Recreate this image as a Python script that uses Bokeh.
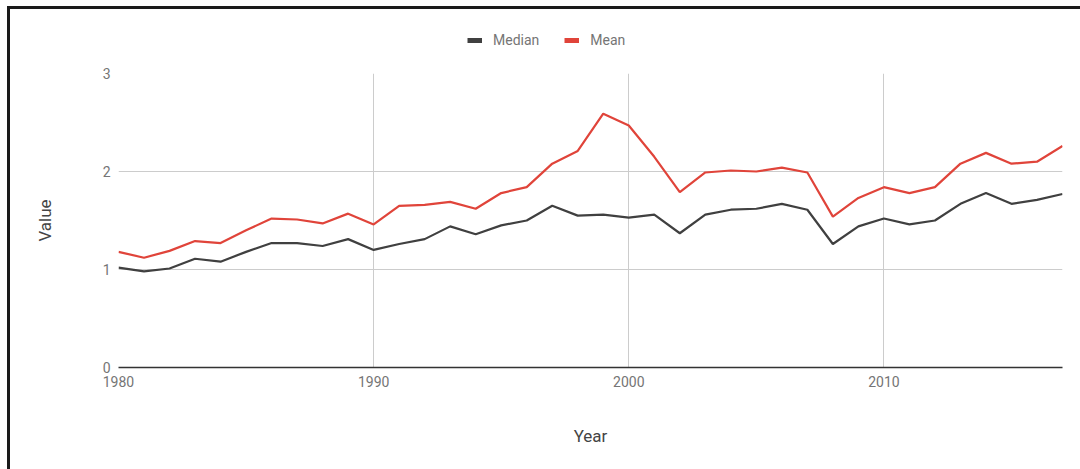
from bokeh.plotting import figure
from bokeh.models import Legend, LegendItem, FixedTicker, Range1d
from bokeh.layouts import column
from bokeh.embed import file_html
from bokeh.resources import INLINE

years = list(range(1980, 2018))
median = [1.02, 0.98, 1.01, 1.11, 1.08, 1.18, 1.27, 1.27, 1.24, 1.31,
          1.20, 1.26, 1.31, 1.44, 1.36, 1.45, 1.50, 1.65, 1.55, 1.56,
          1.53, 1.56, 1.37, 1.56, 1.61, 1.62, 1.67, 1.61, 1.26, 1.44,
          1.52, 1.46, 1.50, 1.67, 1.78, 1.67, 1.71, 1.77]
mean = [1.18, 1.12, 1.19, 1.29, 1.27, 1.40, 1.52, 1.51, 1.47, 1.57,
        1.46, 1.65, 1.66, 1.69, 1.62, 1.78, 1.84, 2.08, 2.21, 2.59,
        2.47, 2.15, 1.79, 1.99, 2.01, 2.00, 2.04, 1.99, 1.54, 1.73,
        1.84, 1.78, 1.84, 2.08, 2.19, 2.08, 2.10, 2.26]
series_names = ["Median", "Mean"]
x_ticks = [1980, 1990, 2000, 2010]
y_ticks = [0, 1, 2, 3]

C_MED = "#404040"
C_MEAN = "#e0443a"
FONT = "Roboto"

# ---- legend strip (separate small figure above the chart) ----
top = figure(width=1070, height=50, output_backend="svg", toolbar_location=None,
             x_range=Range1d(0, 1), y_range=Range1d(0, 1),
             x_axis_type=None, y_axis_type=None,
             min_border_left=0, min_border_right=0, min_border_top=0,
             min_border_bottom=0)
top.outline_line_color = None
top.grid.visible = False
lm = top.line([float("nan")], [float("nan")], line_color=C_MED, line_width=5)
le = top.line([float("nan")], [float("nan")], line_color=C_MEAN, line_width=5)
legend = Legend(items=[LegendItem(label=series_names[0], renderers=[lm]),
                       LegendItem(label=series_names[1], renderers=[le])],
                orientation="horizontal", location=(349, 11),
                border_line_color=None, background_fill_alpha=0,
                label_text_font=FONT, label_text_font_size="14px",
                label_text_color="#757575", glyph_width=15, glyph_height=14,
                spacing=25, label_standoff=11, padding=0, margin=0)
top.add_layout(legend, "center")

# ---- main chart ----
p = figure(width=1070, height=410, output_backend="svg", toolbar_location=None,
           x_range=Range1d(1980, 2017), y_range=Range1d(0, 3),
           min_border_left=108, min_border_right=18, min_border_top=14,
           min_border_bottom=102)
p.outline_line_color = None

p.line(years, median, line_color=C_MED, line_width=2.2)
p.line(years, mean, line_color=C_MEAN, line_width=2.2)

p.xaxis.ticker = FixedTicker(ticks=x_ticks)
p.yaxis.ticker = FixedTicker(ticks=y_ticks)
p.xgrid.ticker = FixedTicker(ticks=x_ticks)
p.ygrid.ticker = FixedTicker(ticks=y_ticks)
p.grid.grid_line_color = "#cccccc"
p.grid.grid_line_width = 1

for ax in (p.xaxis, p.yaxis):
    ax.major_tick_line_color = None
    ax.minor_tick_line_color = None
    ax.major_tick_out = 0
    ax.major_tick_in = 0
    ax.major_label_text_font = FONT
    ax.major_label_text_font_size = "14px"
    ax.major_label_text_color = "#757575"
    ax.axis_label_text_font = FONT
    ax.axis_label_text_font_size = "17px"
    ax.axis_label_text_font_style = "normal"
    ax.axis_label_text_color = "#444444"

p.yaxis.axis_line_color = None
p.yaxis.axis_label = "Value"
p.yaxis.major_label_standoff = 8
p.yaxis.axis_label_standoff = 45

p.xaxis.axis_line_color = "#333333"
p.xaxis.axis_line_width = 1.5
p.xaxis.axis_label = "Year"
p.xaxis.major_label_standoff = 8
p.xaxis.axis_label_standoff = 36

layout = column(top, p, spacing=0)
layout.styles = {"margin-left": "7px", "margin-top": "6px",
                 "border-top": "3px solid #1a1a1a",
                 "border-left": "3px solid #1a1a1a"}

open("out.html", "w").write(file_html(layout, INLINE))
